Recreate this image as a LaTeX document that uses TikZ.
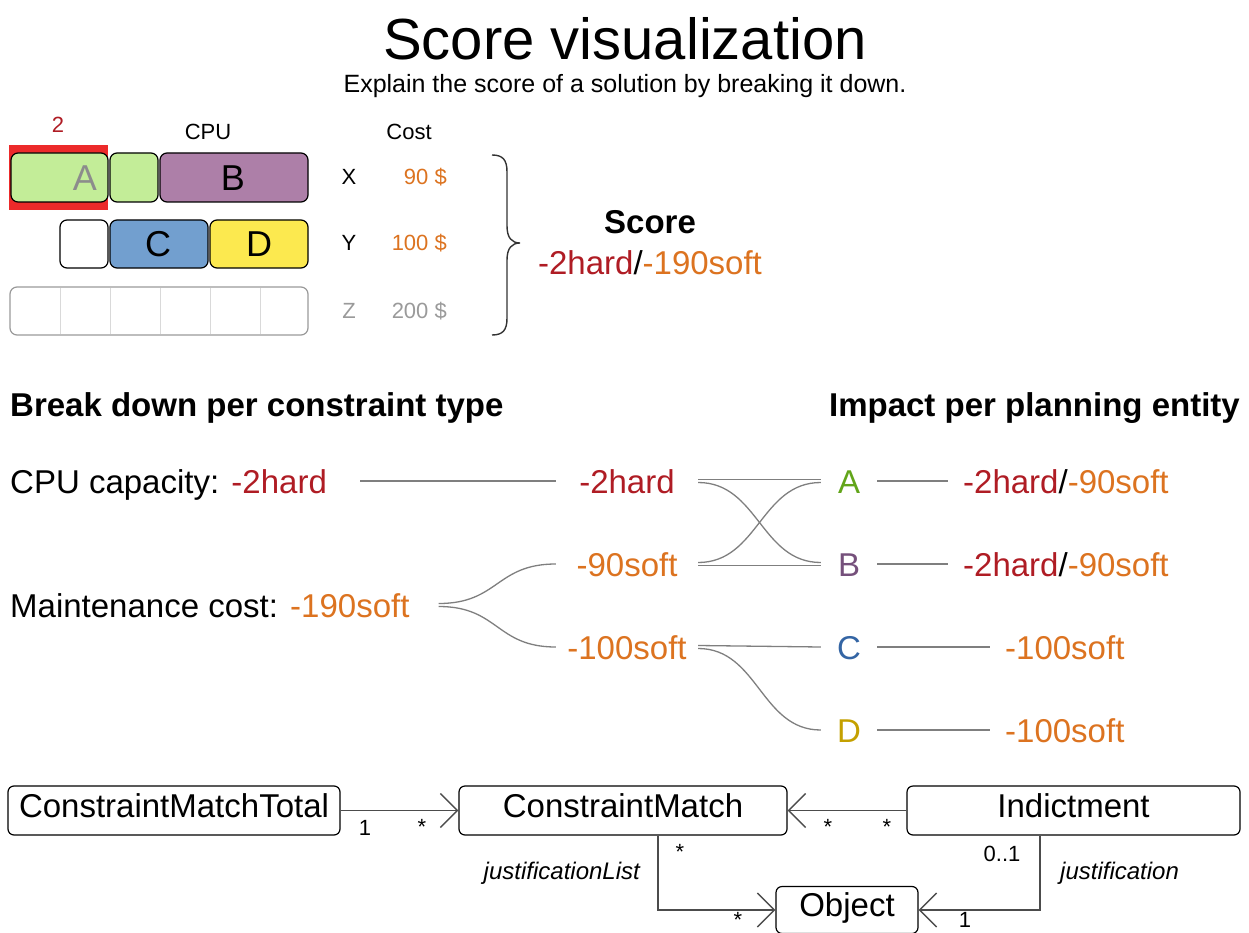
\documentclass[tikz,border=0pt]{standalone}
\usepackage{fontspec}
\setmainfont{Liberation Sans}
\usetikzlibrary{arrows.meta,calc}
\definecolor{hardred}{HTML}{AF1C24}
\definecolor{softorange}{HTML}{DC7320}
\definecolor{agreen}{HTML}{62A51A}
\definecolor{bpurple}{HTML}{75507B}
\definecolor{cblue}{HTML}{3465A4}
\definecolor{dyellow}{HTML}{C4A000}
\definecolor{fillA}{HTML}{C3ED98}
\definecolor{fillB}{HTML}{AD7FA8}
\definecolor{fillC}{HTML}{729FCF}
\definecolor{fillD}{HTML}{FCE94F}
\definecolor{redmark}{HTML}{EC2A2A}
\definecolor{linegray}{HTML}{7F7F7F}
\definecolor{lightgray}{HTML}{9A9A9A}
\newcommand\fsz[1]{\fontsize{#1}{#1}\selectfont}
\tikzset{
  cbox/.style={draw=black, line width=1.2pt, rounded corners=7pt},
  val/.style={text height=24pt, text depth=0pt, inner sep=0pt, font=\fsz{33}},
  midval/.style={val, minimum width=142pt},
  ent/.style={val, minimum width=56pt},
  conn/.style={draw=linegray, line width=1.3pt},
  umlbox/.style={draw=black, line width=1.2pt, rounded corners=6pt, minimum height=49pt,
    text height=23pt, text depth=10pt, inner sep=0pt, font=\fsz{33}},
  uml/.style={draw=black!70, line width=1.4pt, -{Straight Barb[length=17pt,width=34pt,line width=1.4pt]}},
  lbl/.style={inner sep=0pt, font=\fsz{22}},
  small/.style={inner sep=0pt, font=\fsz{22}},
}
\begin{document}
\begin{tikzpicture}[x=1pt,y=-1pt]
\useasboundingbox (0,0) rectangle (1249,933);
% title
\node[anchor=base, inner sep=0pt] (title) at (625,60) {\fsz{58}Score visualization};
\node[anchor=base, inner sep=0pt] (subtitle) at (625,92.5) {\fsz{25}Explain the score of a solution by breaking it down.};
% top example
\node[small, anchor=base, text=hardred] (two) at (58,133) {2};
\node[small, anchor=base] (cpuh) at (208,140) {CPU};
\node[small, anchor=base] (costh) at (409,140) {Cost};
\fill[redmark] (9,145) rectangle (108,210);
\draw[cbox, fill=fillA] (11,153) rectangle (108,202);
\draw[cbox, fill=fillA] (110,153) rectangle (158,202);
\draw[cbox, fill=fillB] (160,153) rectangle (308,202);
\draw[cbox, fill=white] (60,220) rectangle (108,268);
\draw[cbox, fill=fillC] (110,220) rectangle (208,268);
\draw[cbox, fill=fillD] (210,220) rectangle (308,268);
\foreach \x in {60,110,160,210,260} \draw[black!15, line width=0.8pt] (\x,288) -- (\x,334);
\draw[cbox, draw=black!40] (10,287) rectangle (308,335);
\node[inner sep=0pt, font=\fsz{36}, text=black!45, text height=26pt, text depth=0pt] (la) at (85,178) {A};
\node[inner sep=0pt, font=\fsz{36}, text height=26pt, text depth=0pt] (lb) at (233,178) {B};
\node[inner sep=0pt, font=\fsz{36}, text height=26pt, text depth=0pt] (lc) at (158,244) {C};
\node[inner sep=0pt, font=\fsz{36}, text height=26pt, text depth=0pt] (ld) at (259,244) {D};
\node[small, anchor=base] (cx) at (349,185) {X};
\node[small, anchor=base] (cy) at (349,251) {Y};
\node[small, anchor=base, text=lightgray] (cz) at (349,318) {Z};
\node[small, anchor=base east, text=softorange] (px) at (447,185) {90 \$};
\node[small, anchor=base east, text=softorange] (py) at (447,251) {100 \$};
\node[small, anchor=base east, text=lightgray] (pz) at (447,318) {200 \$};
\draw[black!80, line width=1.4pt] (492,155) .. controls (503,155) and (507,160) .. (507,172) -- (507,226)
  .. controls (507,238) and (512,243) .. (520,243) .. controls (512,243) and (507,248) .. (507,260)
  -- (507,318) .. controls (507,330) and (503,335) .. (492,335);
\node[anchor=base, inner sep=0pt, font=\fsz{33}\bfseries] (score) at (650,233.5) {Score};
\node[anchor=base, inner sep=0pt, font=\fsz{33}] (scoreval) at (650,274.5) {\textcolor{hardred}{-2hard}/\textcolor{softorange}{-190soft}};
% breakdown
\node[anchor=base west, inner sep=0pt, font=\fsz{33}\bfseries] (bd) at (10,416) {Break down per constraint type};
\node[anchor=base east, inner sep=0pt, font=\fsz{33}\bfseries] (ip) at (1240,416) {Impact per planning entity};
\node[val, anchor=west] (cpu) at (10,481) {CPU capacity: \textcolor{hardred}{-2hard}};
\node[val, anchor=west] (mc) at (10,605) {Maintenance cost: \textcolor{softorange}{-190soft}};
\node[midval, text=hardred] (m1) at (627,481) {-2hard};
\node[midval, text=softorange] (m2) at (627,564) {-90soft};
\node[midval, text=softorange] (m3) at (627,647) {-100soft};
\node[ent, text=agreen] (eA) at (849,481) {A};
\node[ent, text=bpurple] (eB) at (849,564) {B};
\node[ent, text=cblue] (eC) at (849,647) {C};
\node[ent, text=dyellow] (eD) at (849,730) {D};
\node[val, anchor=west, inner xsep=15pt] (rA) at (948,481) {\textcolor{hardred}{-2hard}/\textcolor{softorange}{-90soft}};
\node[val, anchor=west, inner xsep=15pt] (rB) at (948,564) {\textcolor{hardred}{-2hard}/\textcolor{softorange}{-90soft}};
\node[val, anchor=west, inner xsep=15pt, text=softorange] (rC) at (990,647) {-100soft};
\node[val, anchor=west, inner xsep=15pt, text=softorange] (rD) at (990,730) {-100soft};
\draw[conn] ([xshift=33pt]cpu.east) -- (m1.west);
\draw[conn] ([xshift=29pt,yshift=1.5pt]mc.east) .. controls +(60,0) and +(-60,0) .. (m2.west);
\draw[conn] ([xshift=29pt,yshift=-1.5pt]mc.east) .. controls +(60,0) and +(-60,0) .. (m3.west);
\draw[conn] ([yshift=1.5pt]m1.east) -- ([yshift=1.5pt]eA.west);
\draw[conn] ([yshift=-1.5pt]m1.east) .. controls +(60,0) and +(-60,0) .. ([yshift=1.5pt]eB.west);
\draw[conn] ([yshift=-1.5pt]m2.east) -- ([yshift=-1.5pt]eB.west);
\draw[conn] ([yshift=1.5pt]m2.east) .. controls +(60,0) and +(-60,0) .. ([yshift=-1.5pt]eA.west);
\draw[conn] ([yshift=1.5pt]m3.east) -- (eC.west);
\draw[conn] ([yshift=-1.5pt]m3.east) .. controls +(60,0) and +(-60,0) .. (eD.west);
\draw[conn] (eA.east) -- (rA.west);
\draw[conn] (eB.east) -- (rB.west);
\draw[conn] (eC.east) -- (rC.west);
\draw[conn] (eD.east) -- (rD.west);
% UML
\node[umlbox, minimum width=332pt] (cmt) at (174,810.5) {ConstraintMatchTotal};
\node[umlbox, minimum width=328pt] (cm) at (623,810.5) {ConstraintMatch};
\node[umlbox, minimum width=333pt] (ind) at (1073.5,810.5) {Indictment};
\node[umlbox, minimum width=142pt, minimum height=47pt] (obj) at (847,910) {Object};
\draw[uml] (cmt.east) -- (cm.west);
\draw[uml] (ind.west) -- (cm.east);
\draw[uml] ([xshift=35pt]cm.south) |- (obj.west);
\draw[uml] ([xshift=-33.5pt]ind.south) |- (obj.east);
\node[lbl, anchor=base] (u1) at (365,835) {1};
\node[lbl, anchor=base] (u2) at (422,834.5) {*};
\node[lbl, anchor=base] (u3) at (828,834.5) {*};
\node[lbl, anchor=base] (u4) at (887,834.5) {*};
\node[lbl, anchor=base] (u5) at (680,859.5) {*};
\node[lbl, anchor=base] (u6) at (1002,861) {0..1};
\node[lbl, anchor=base] (u7) at (738,927) {*};
\node[lbl, anchor=base] (u8) at (965,927) {1};
\node[inner sep=0pt, anchor=base east, font=\fsz{24}\itshape] (jl) at (640,879) {justificationList};
\node[inner sep=0pt, anchor=base west, font=\fsz{24}\itshape] (jj) at (1060,879) {justification};
\end{tikzpicture}
\end{document}
